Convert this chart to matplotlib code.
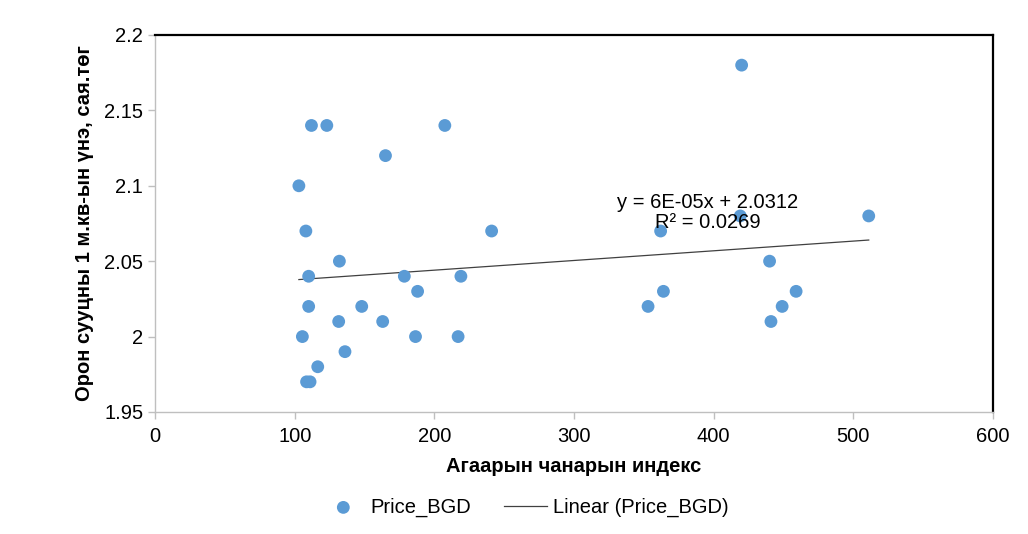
import numpy as np
import matplotlib.pyplot as plt

plt.rcParams['font.family'] = ['Liberation Sans', 'DejaVu Sans']

# Air quality index vs apartment price per m2 (mln tugrik)
aqi = [103, 112, 123, 207.5, 165, 108, 132, 110, 178.5, 188, 219, 110, 148,
       131.5, 163, 105.5, 186.5, 217, 136, 116.5, 108.5, 111, 241,
       420, 362, 419, 511, 440, 364, 353, 459, 449, 441]
price = [2.10, 2.14, 2.14, 2.14, 2.12, 2.07, 2.05, 2.04, 2.04, 2.03, 2.04, 2.02, 2.02,
         2.01, 2.01, 2.00, 2.00, 2.00, 1.99, 1.98, 1.97, 1.97, 2.07,
         2.18, 2.07, 2.08, 2.08, 2.05, 2.03, 2.02, 2.03, 2.02, 2.01]
x_ticks = [0, 100, 200, 300, 400, 500, 600]
y_ticks = [1.95, 2.0, 2.05, 2.1, 2.15, 2.2]
y_tick_labels = ['1.95', '2', '2.05', '2.1', '2.15', '2.2']
eq_text = 'y = 6E-05x + 2.0312\nR² = 0.0269'

fs = 14.5

fig = plt.figure(figsize=(10.28, 5.34), dpi=100)
ax = fig.add_axes([0.1508, 0.2285, 0.8152, 0.706])

ax.scatter(aqi, price, s=85, color='#5B9BD5', edgecolors='none',
           label='Price_BGD', zorder=3)

# linear trendline
slope, icpt = np.polyfit(aqi, price, 1)
xs = np.array([min(aqi), max(aqi)])
ax.plot(xs, slope * xs + icpt, color='#404040', lw=0.9,
        label='Linear (Price_BGD)', zorder=2)

ax.text(395.5, 2.072, eq_text, ha='center', va='baseline', fontsize=fs,
        linespacing=1.1, zorder=4)

ax.set_xlim(0, 600)
ax.set_ylim(1.95, 2.2)
ax.set_xticks(x_ticks)
ax.set_yticks(y_ticks)
ax.set_yticklabels(y_tick_labels)
ax.tick_params(axis='both', labelsize=fs, length=5, color='#BFBFBF', width=1)
ax.tick_params(axis='x', pad=6)

for side in ['left', 'bottom']:
    ax.spines[side].set_color('#BFBFBF')
    ax.spines[side].set_linewidth(1)
for side in ['top', 'right']:
    ax.spines[side].set_color('black')
    ax.spines[side].set_linewidth(1.6)

ax.set_xlabel('Агаарын чанарын индекс', fontsize=fs, fontweight='bold', labelpad=8)
ax.set_ylabel('Орон сууцны 1 м.кв-ын үнэ, сая.төг', fontsize=fs, fontweight='bold',
              labelpad=7)

fig.legend(loc='center', bbox_to_anchor=(0.511, 0.05), ncol=2, frameon=False,
           fontsize=fs, handlelength=2.1, columnspacing=1.65, handletextpad=0.3)

fig.savefig('out.png', dpi=100)
